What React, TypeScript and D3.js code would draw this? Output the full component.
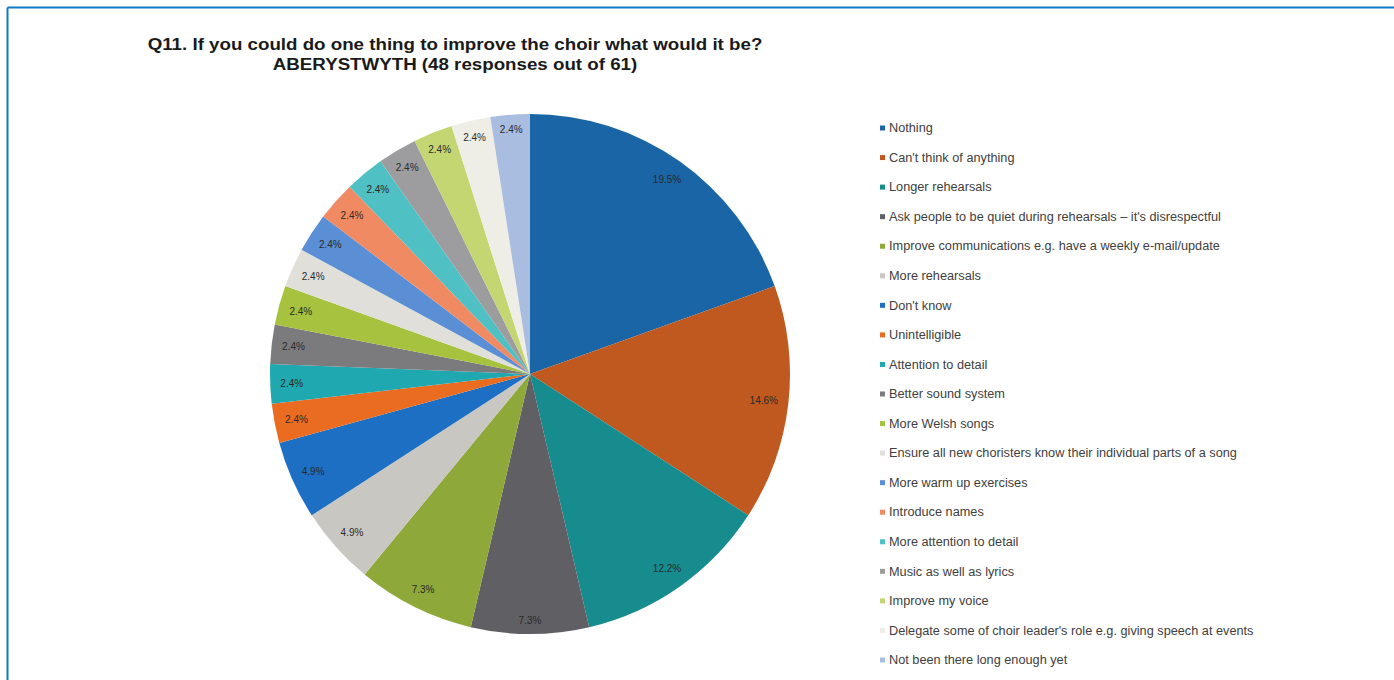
import React, { useEffect, useRef } from "react";
import * as d3 from "d3";

const categories: string[] = [
  "Nothing",
  "Can't think of anything",
  "Longer rehearsals",
  "Ask people to be quiet during rehearsals – it's disrespectful",
  "Improve communications e.g. have a weekly e-mail/update",
  "More rehearsals",
  "Don't know",
  "Unintelligible",
  "Attention to detail",
  "Better sound system",
  "More Welsh songs",
  "Ensure all new choristers know their individual parts of a song",
  "More warm up exercises",
  "Introduce names",
  "More attention to detail",
  "Music as well as lyrics",
  "Improve my voice",
  "Delegate some of choir leader's role e.g. giving speech at events",
  "Not been there long enough yet",
];

const counts: number[] = [8, 6, 5, 3, 3, 2, 2, 1, 1, 1, 1, 1, 1, 1, 1, 1, 1, 1, 1];

const colors: string[] = [
  "#1a65a5",
  "#bf591f",
  "#168c8f",
  "#606064",
  "#8fa83a",
  "#c9c7c1",
  "#1c6fc2",
  "#ea6c21",
  "#20a8b0",
  "#7b7b7d",
  "#a6c23e",
  "#e1dfda",
  "#5a8fd5",
  "#f08a62",
  "#4fc0c3",
  "#9d9d9f",
  "#c3d672",
  "#efeee6",
  "#a9bde0",
];

const titleLines: string[] = [
  "Q11. If you could do one thing to improve the choir what would it be?",
  "ABERYSTWYTH (48 responses out of 61)",
];

export default function App() {
  const ref = useRef<SVGSVGElement>(null);

  useEffect(() => {
    const svg = d3.select(ref.current);
    svg.selectAll("*").remove();

    const W = 1394, H = 680;
    const font = "Liberation Sans, Arial, sans-serif";
    svg.append("rect").attr("x", 0).attr("y", 0).attr("width", W).attr("height", H).attr("fill", "#fff");
    svg.append("line").attr("x1", 7.5).attr("x2", W).attr("y1", 7.5).attr("y2", 7.5)
      .attr("stroke", "#0f7bc4").attr("stroke-width", 2);
    svg.append("line").attr("x1", 7.5).attr("x2", 7.5).attr("y1", 7.5).attr("y2", H)
      .attr("stroke", "#0f7bc4").attr("stroke-width", 2);

    // title
    titleLines.forEach((t, i) => {
      const tx = svg.append("text").attr("text-anchor", "middle")
        .attr("x", 455).attr("y", 50 + i * 20)
        .attr("font-family", font)
        .attr("font-weight", "bold").attr("font-size", 16).attr("fill", "#1a1a1a")
        .text(t);
      const node = tx.node() as SVGTextElement;
      const len = node.getComputedTextLength();
      tx.attr("textLength", len * 1.17).attr("lengthAdjust", "spacingAndGlyphs");
    });

    const cx = 530, cy = 374, R = 260, Rm = 251;
    const total = d3.sum(counts);
    const data = counts.map((v, i) => ({ v, i }));
    const pie = d3.pie<{ v: number; i: number }>().value(d => d.v).sort(null);
    const arcs = pie(data);
    const arc = d3.arc<d3.PieArcDatum<{ v: number; i: number }>>().innerRadius(0).outerRadius(R);

    const g = svg.append("g").attr("transform", `translate(${cx},${cy})`);
    g.selectAll("path").data(arcs).join("path")
      .attr("d", d => arc(d) as string)
      .attr("fill", d => colors[d.data.i]);

    const labels = g.selectAll("text").data(arcs).join("text")
      .attr("text-anchor", "middle").attr("dy", "0.35em")
      .attr("font-family", font)
      .attr("font-size", 10).attr("fill", "#2a2a2a")
      .text(d => `${((d.data.v / total) * 100).toFixed(1)}%`);

    labels.each(function (d) {
      const node = this as SVGTextElement;
      const hw = node.getComputedTextLength() / 2 + 1;
      const hh = 5;
      const a = (d.startAngle + d.endAngle) / 2;
      const ux = Math.sin(a), uy = -Math.cos(a);
      const r = Rm - (Math.abs(ux) * hw + Math.abs(uy) * hh);
      d3.select(node).attr("transform", `translate(${r * ux},${r * uy})`);
    });

    // legend
    const lg = svg.append("g");
    const y0 = 128, step = (660 - 128) / 18;
    categories.forEach((c, i) => {
      const y = y0 + i * step;
      lg.append("rect").attr("x", 880).attr("y", y - 2.5).attr("width", 5).attr("height", 5).attr("fill", colors[i]);
      const tx = lg.append("text").attr("x", 889).attr("y", y).attr("dy", "0.35em")
        .attr("font-family", font)
        .attr("font-size", 12).attr("fill", "#404040").text(c);
      const len = (tx.node() as SVGTextElement).getComputedTextLength();
      tx.attr("textLength", len * 1.06).attr("lengthAdjust", "spacingAndGlyphs");
    });
  }, []);

  return (
    <svg ref={ref} width={1394} height={680}
      style={{ position: "absolute", left: 0, top: 0, display: "block" }} />
  );
}
